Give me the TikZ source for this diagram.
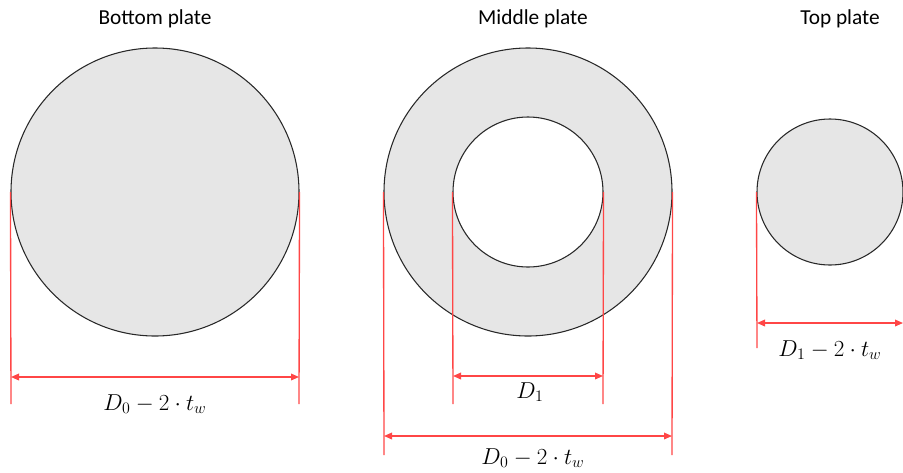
\documentclass[tikz,border=0pt]{standalone}
\usepackage{fontspec}
\setmainfont{Carlito}
\usetikzlibrary{arrows.meta}
\definecolor{dimred}{RGB}{255,70,70}
\definecolor{platefill}{RGB}{230,230,230}
\definecolor{plateedge}{RGB}{40,40,40}
\tikzset{
  plate/.style={circle, draw=plateedge, fill=platefill, line width=0.8pt, inner sep=0pt},
  hole/.style={circle, draw=plateedge, fill=white, line width=0.8pt, inner sep=0pt},
  ext/.style={draw=dimred, line width=1pt},
  dimarrow/.style={draw=dimred, line width=1pt, {Triangle[length=6pt,width=5pt]}-{Triangle[length=6pt,width=5pt]}},
  title/.style={font=\fontsize{16}{20}\selectfont, inner sep=0pt},
  dimlabel/.style={font=\fontsize{16.5}{20}\selectfont, inner sep=0pt}
}
\begin{document}
\begin{tikzpicture}[x=0.75pt,y=-0.75pt]
\useasboundingbox (0,0) rectangle (903,472);
% titles
\node[title] (tb) at (155,19) {Bottom plate};
\node[title] (tm) at (533,19) {Middle plate};
\node[title] (tt) at (840,19) {Top plate};
% plates
\node[plate, minimum size=216pt] (bp) at (155,192) {};
\node[plate, minimum size=216pt] (mo) at (528,192) {};
\node[hole, minimum size=112.5pt] (mi) at (528,192) {};
\node[plate, minimum size=109.5pt] (tp) at (830,192) {};
% extension coordinates
\coordinate (bpl) at (11,404);
\coordinate (bpr) at (299,404);
\coordinate (mol) at (384,455);
\coordinate (mor) at (672,455);
\coordinate (mil) at (453,404);
\coordinate (mir) at (603,404);
\coordinate (tpl) at (757,348);
% extension lines
\draw[ext] (bp.west) -- (bpl);
\draw[ext] (bp.east) -- (bpr);
\draw[ext] (mo.west) -- (mol);
\draw[ext] (mo.east) -- (mor);
\draw[ext] (mi.west) -- (mil);
\draw[ext] (mi.east) -- (mir);
\draw[ext] (tp.west) -- (tpl);
% dimension arrows
\coordinate (a1l) at (11,377); \coordinate (a1r) at (299,377);
\coordinate (a2l) at (453,376); \coordinate (a2r) at (603,376);
\coordinate (a3l) at (384,436); \coordinate (a3r) at (672,436);
\coordinate (a4l) at (757,323); \coordinate (a4r) at (903,323);
\draw[dimarrow] (a1l) -- (a1r);
\draw[dimarrow] (a2l) -- (a2r);
\draw[dimarrow] (a3l) -- (a3r);
\draw[dimarrow] (a4l) -- (a4r);
% labels
\node[dimlabel] (l1) at (155,404) {$D_0-2\cdot t_w$};
\node[dimlabel] (l2) at (530,392) {$D_1$};
\node[dimlabel] (l3) at (533,458) {$D_0-2\cdot t_w$};
\node[dimlabel] (l4) at (830,350) {$D_1-2\cdot t_w$};
\end{tikzpicture}
\end{document}
